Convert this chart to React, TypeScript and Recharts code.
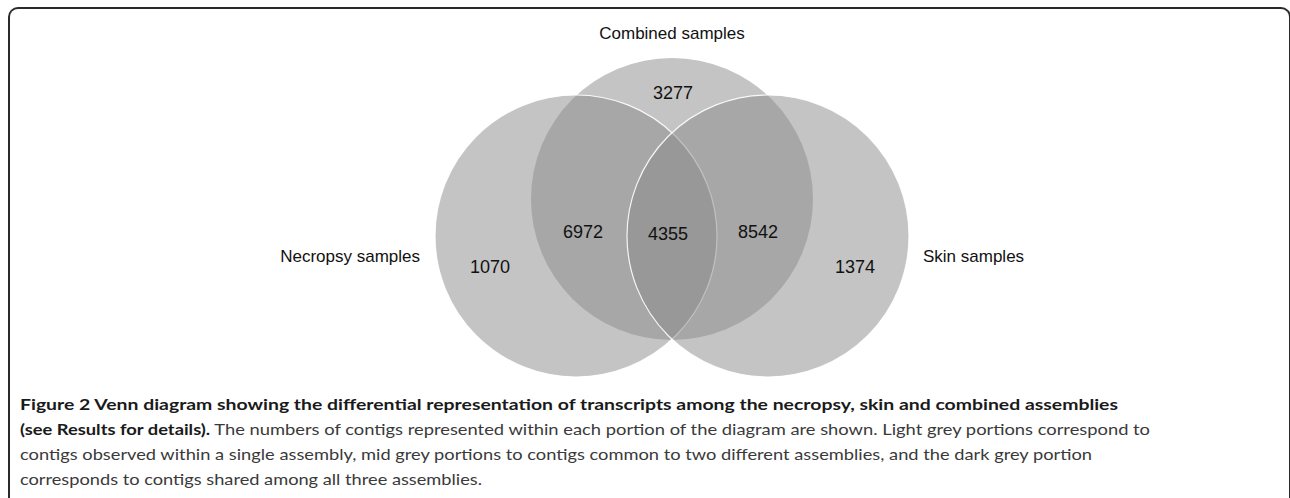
import React from "react";
import { ScatterChart, Scatter, XAxis, YAxis } from "recharts";

const W = 1290;
const H = 498;

// the three sets, drawn back to front
const SET_NAMES = ["Combined samples", "Necropsy samples", "Skin samples"];
const SET_X = [672, 576, 768];
const SET_Y = [199, 236, 236];
const SET_R = [141, 141, 141];

// where the set names sit
const SET_LABEL_X = [672, 420, 923];
const SET_LABEL_Y = [33, 256, 256];
const SET_LABEL_ANCHOR = ["middle", "end", "start"];

// counts in each portion
const REGION_COUNTS = [3277, 1070, 1374, 6972, 8542, 4355];
const REGION_X = [673, 490, 855, 583, 758, 668];
const REGION_Y = [93, 267, 267, 232, 232, 234];

const circles = SET_NAMES.map((name, i) => ({ name, x: SET_X[i], y: SET_Y[i], r: SET_R[i] }));
const setLabels = SET_NAMES.map((name, i) => ({
  name,
  x: SET_LABEL_X[i],
  y: SET_LABEL_Y[i],
  anchor: SET_LABEL_ANCHOR[i],
}));
const counts = REGION_COUNTS.map((v, i) => ({ v, x: REGION_X[i], y: REGION_Y[i] }));

const vennFont = "'Liberation Sans', Arial, sans-serif";
const capFont = "Lato, 'Open Sans', sans-serif";

const CircleShape = (props: any) => {
  const { cx, cy, payload, index } = props;
  const r = payload.r * (W / 1290);
  const side = index > 0;
  return (
    <circle
      cx={cx}
      cy={cy}
      r={r}
      fill="#8a8a8a"
      fillOpacity={0.5}
      stroke={side ? "#ffffff" : "none"}
      strokeOpacity={0.9}
      strokeWidth={1.2}
    />
  );
};

const SetLabel = (props: any) => (
  <text
    x={props.cx}
    y={props.cy}
    textAnchor={props.payload.anchor}
    dominantBaseline="central"
    fontFamily={vennFont}
    fontSize={17}
    fill="#111"
  >
    {props.payload.name}
  </text>
);

const CountLabel = (props: any) => (
  <text
    x={props.cx}
    y={props.cy}
    textAnchor="middle"
    dominantBaseline="central"
    fontFamily={vennFont}
    fontSize={18}
    fill="#111"
  >
    {props.payload.v}
  </text>
);

export default function App() {
  return (
    <div
      style={{
        position: "absolute",
        left: 0,
        top: 0,
        width: W,
        height: H,
        overflow: "hidden",
        background: "#fff",
      }}
    >
      <div
        style={{
          position: "absolute",
          left: 8,
          top: 7,
          width: 1283,
          height: 560,
          borderTop: "2px solid #2a2a2a",
          borderLeft: "2px solid #2a2a2a",
          borderRight: "2px solid #2a2a2a",
          borderTopLeftRadius: 10,
          borderTopRightRadius: 10,
          boxSizing: "border-box",
        }}
      />
      <div style={{ position: "absolute", left: 0, top: 0 }}>
        <ScatterChart width={W} height={H} margin={{ top: 0, right: 0, bottom: 0, left: 0 }}>
          <XAxis type="number" dataKey="x" domain={[0, W]} hide />
          <YAxis type="number" dataKey="y" domain={[0, H]} reversed hide />
          <Scatter data={circles} shape={<CircleShape />} isAnimationActive={false} />
          <Scatter data={counts} shape={<CountLabel />} isAnimationActive={false} />
          <Scatter data={setLabels} shape={<SetLabel />} isAnimationActive={false} />
        </ScatterChart>
      </div>
      <svg
        width={W}
        height={H}
        style={{ position: "absolute", left: 0, top: 0, pointerEvents: "none" }}
      >
        <g fontFamily={capFont} fontSize={16}>
          <text x={20} y={410} fontWeight={700} fill="#1a1a1a" textLength={1098} lengthAdjust="spacingAndGlyphs">
            Figure 2 Venn diagram showing the differential representation of transcripts among the necropsy, skin and combined assemblies
          </text>
          <text x={20} y={435} fill="#3a3a3a" textLength={1130} lengthAdjust="spacingAndGlyphs">
            <tspan fontWeight={700} fill="#1a1a1a">(see Results for details).</tspan>
            <tspan> The numbers of contigs represented within each portion of the diagram are shown. Light grey portions correspond to</tspan>
          </text>
          <text x={20} y={460} fill="#3a3a3a" textLength={1072} lengthAdjust="spacingAndGlyphs">
            contigs observed within a single assembly, mid grey portions to contigs common to two different assemblies, and the dark grey portion
          </text>
          <text x={20} y={485} fill="#3a3a3a" textLength={462} lengthAdjust="spacingAndGlyphs">
            corresponds to contigs shared among all three assemblies.
          </text>
        </g>
      </svg>
    </div>
  );
}
